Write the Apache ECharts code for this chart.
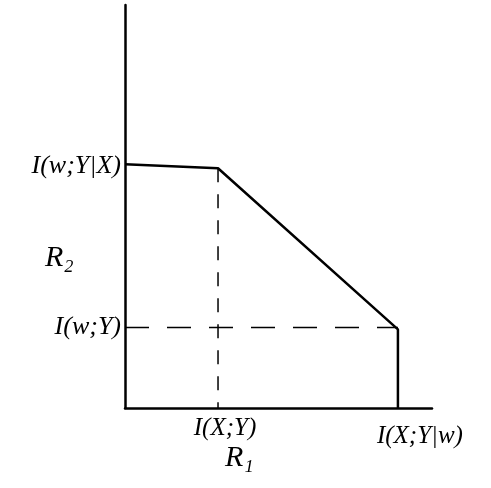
<!DOCTYPE html>
<html>
<head>
<meta charset="utf-8">
<script src="https://cdn.jsdelivr.net/npm/echarts@6/dist/echarts.min.js"></script>
<style>
  html, body { margin: 0; padding: 0; background: #fff; }
  #chart { width: 491px; height: 488px; }
</style>
</head>
<body>
<div id="chart"></div>
<script>
// rate region corner values (axis units)
const xTicks = [3.03, 8.89];
const xTickLabels = ['I(X;Y)', 'I(X;Y|w)'];
const yTicks = [2.0, 6.0];
const yTickLabels = ['I(w;Y)', 'I(w;Y|X)'];

const boundary = [[0, 6.05], [3.03, 5.95], [8.89, 1.95], [8.89, 0]];
const dashV = [[3.03, 5.95], [3.03, 0]];
const dashH = [[0, 2.0], [8.89, 2.0]];

const font = 'Liberation Serif';

const myChart = echarts.init(document.getElementById('chart'));

myChart.setOption({
  animation: false,
  grid: { left: 125, right: 59, top: 5, bottom: 80 },
  xAxis: {
    type: 'value',
    min: 0,
    max: 10,
    splitLine: { show: false },
    axisTick: { show: false },
    axisLine: { lineStyle: { color: '#000', width: 2.5 } },
    axisLabel: {
      customValues: xTicks,
      color: '#000',
      fontFamily: font,
      fontStyle: 'italic',
      fontSize: 25,
      margin: 8,
      formatter: v => {
        const i = xTicks.indexOf(v);
        return i === 0 ? '{a|' + xTickLabels[0] + '}' : '{b|' + xTickLabels[1] + '}';
      },
      rich: {
        a: { fontFamily: font, fontStyle: 'italic', fontSize: 25, color: '#000', padding: [0, 0, 0, 14] },
        b: { fontFamily: font, fontStyle: 'italic', fontSize: 25, color: '#000', padding: [8, 0, 0, 44] }
      }
    }
  },
  yAxis: {
    type: 'value',
    min: 0,
    max: 10,
    splitLine: { show: false },
    axisTick: { show: false },
    axisLine: { lineStyle: { color: '#000', width: 2.5 } },
    axisLabel: {
      customValues: yTicks,
      color: '#000',
      fontFamily: font,
      fontStyle: 'italic',
      fontSize: 26,
      margin: 4,
      formatter: v => yTickLabels[yTicks.indexOf(v)] || ''
    }
  },
  graphic: [
    { type: 'text', left: 45, top: 243, style: { text: 'R₂', font: 'italic 30px "Liberation Serif"', fill: '#000' } },
    { type: 'text', left: 225, top: 443, style: { text: 'R₁', font: 'italic 30px "Liberation Serif"', fill: '#000' } }
  ],
  series: [
    {
      type: 'line',
      data: boundary,
      symbol: 'none',
      lineStyle: { color: '#000', width: 2.5 }
    },
    {
      type: 'line',
      data: dashV,
      symbol: 'none',
      lineStyle: { color: '#000', width: 1.5, type: [14, 12] }
    },
    {
      type: 'line',
      data: dashH,
      symbol: 'none',
      lineStyle: { color: '#000', width: 1.5, type: [24, 18] }
    }
  ]
});
</script>
</body>
</html>
